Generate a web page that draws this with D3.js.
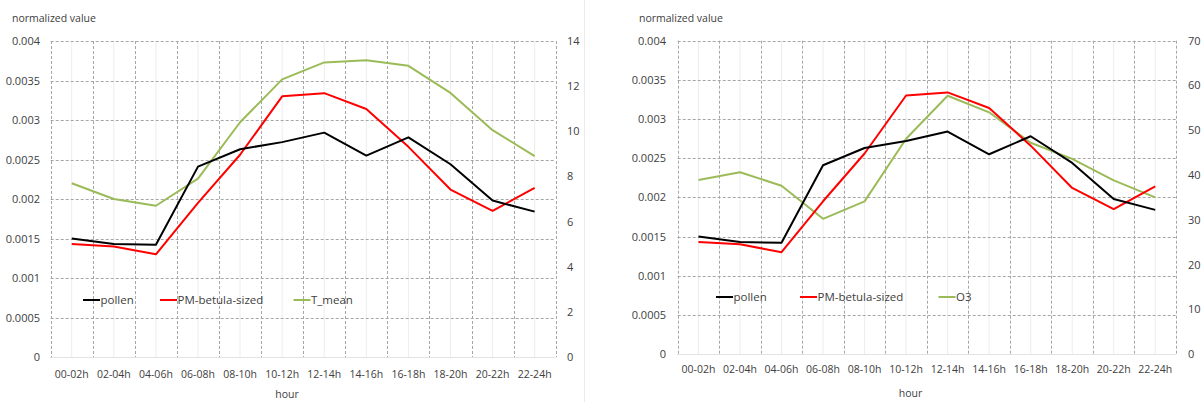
<!DOCTYPE html>
<html>
<head>
<meta charset="utf-8">
<script src="https://cdn.jsdelivr.net/npm/d3@7"></script>
<style>
  html, body { margin: 0; padding: 0; background: #fff; }
  svg { display: block; }
  text { font-family: "Open Sans", "Noto Sans", sans-serif; fill: #404040; }
</style>
</head>
<body>
<svg id="chart" width="1204" height="402"></svg>
<script>
// Two-hour bins of the day
const hours = ["00-02h","02-04h","04-06h","06-08h","08-10h","10-12h","12-14h","14-16h","16-18h","18-20h","20-22h","22-24h"];

// Normalized daily profiles (left axis)
const pollen    = [0.00150, 0.00143, 0.00142, 0.00241, 0.00263, 0.00272, 0.00284, 0.00255, 0.00278, 0.00244, 0.00198, 0.00184];
const pmBetula  = [0.00143, 0.00140, 0.00130, 0.00195, 0.00256, 0.00330, 0.00334, 0.00314, 0.00266, 0.00212, 0.00185, 0.00214];

// Secondary series (right axis)
const tMean = [7.7, 7.0, 6.7, 7.9, 10.4, 12.3, 13.05, 13.15, 12.9, 11.7, 10.05, 8.9];
const o3    = [38.9, 40.6, 37.6, 30.2, 34.1, 48.1, 57.7, 54.0, 47.2, 43.6, 38.8, 35.0];

// Axis ticks
const leftTicks = [0, 0.0005, 0.001, 0.0015, 0.002, 0.0025, 0.003, 0.0035, 0.004];
const tempTicks = [0, 2, 4, 6, 8, 10, 12, 14];
const o3Ticks   = [0, 10, 20, 30, 40, 50, 60, 70];

const seriesNames = { pollen: "pollen", pm: "PM-betula-sized" };
const colors = { pollen: "#000000", pm: "#ff0000", secondary: "#9bbb59" };

const svg = d3.select("#chart");

// thin separator between the two panels
svg.append("line")
  .attr("x1", 584.5).attr("x2", 584.5).attr("y1", 0).attr("y2", 402)
  .attr("stroke", "#ececec").attr("stroke-width", 1);

function drawPanel(cfg) {
  const g = svg.append("g");
  const { x0, x1, y0, y1 } = cfg.plot;

  const x = d3.scaleBand().domain(hours).range([x0, x1]).padding(0);
  const yL = d3.scaleLinear().domain([0, 0.004]).range([y1, y0]);
  const yR = d3.scaleLinear().domain([0, cfg.rightMax]).range([y1, y0]);

  // faint lines through category centres
  g.append("g").selectAll("line").data(hours).join("line")
    .attr("x1", d => x(d) + x.bandwidth() / 2)
    .attr("x2", d => x(d) + x.bandwidth() / 2)
    .attr("y1", y0).attr("y2", y1)
    .attr("stroke", "#ededed").attr("stroke-width", 1);

  // dashed horizontal gridlines
  g.append("g").selectAll("line").data(leftTicks).join("line")
    .attr("x1", x0).attr("x2", x1)
    .attr("y1", d => Math.round(yL(d)) + 0.5).attr("y2", d => Math.round(yL(d)) + 0.5)
    .attr("stroke", "#a6a6a6").attr("stroke-width", 1)
    .attr("stroke-dasharray", "3,2");

  // dashed vertical gridlines on category boundaries
  const bounds = hours.map(d => x(d)).concat([x1]);
  g.append("g").selectAll("line").data(bounds).join("line")
    .attr("x1", d => Math.round(d) + 0.5).attr("x2", d => Math.round(d) + 0.5)
    .attr("y1", y0).attr("y2", y1)
    .attr("stroke", "#a6a6a6").attr("stroke-width", 1)
    .attr("stroke-dasharray", "3,2");

  // horizontal axis line
  g.append("line")
    .attr("x1", x0).attr("x2", x1)
    .attr("y1", Math.round(y1) + 0.5).attr("y2", Math.round(y1) + 0.5)
    .attr("stroke", "#e3e3e3").attr("stroke-width", 1);

  // left axis labels
  const fmt = v => String(+v.toFixed(4));
  const axL = g.append("g")
    .attr("transform", `translate(${cfg.leftLabelX},0)`)
    .call(d3.axisLeft(yL).tickValues(leftTicks).tickFormat(fmt).tickSize(0).tickPadding(0));
  axL.select(".domain").remove();
  axL.selectAll("text").style("font-size", "11px").attr("fill", "#404040")
    .style("font-family", "'Open Sans', sans-serif");

  // right axis labels
  const axR = g.append("g")
    .attr("transform", `translate(${cfg.rightLabelX},0)`)
    .call(d3.axisRight(yR).tickValues(cfg.rightTicks).tickSize(0).tickPadding(0));
  axR.select(".domain").remove();
  axR.selectAll("text").style("font-size", "11px").attr("fill", "#404040")
    .style("font-family", "'Open Sans', sans-serif");

  // category labels
  const axB = g.append("g")
    .attr("transform", `translate(0,${cfg.catLabelY})`)
    .call(d3.axisBottom(x).tickSize(0).tickPadding(0));
  axB.select(".domain").remove();
  axB.selectAll("text").style("font-size", "10.5px").attr("fill", "#404040")
    .style("font-family", "'Open Sans', sans-serif").attr("dy", "0.35em").attr("y", 0);

  // axis titles
  g.append("text").attr("x", cfg.titleX).attr("y", 22)
    .style("font-size", "10.5px").text("normalized value");
  g.append("text").attr("x", cfg.hourX).attr("y", cfg.hourY)
    .attr("text-anchor", "middle").attr("dy", "0.35em")
    .style("font-size", "10.5px").text("hour");

  // series
  const cx = d => x(d) + x.bandwidth() / 2;
  const lineL = d3.line().x((v, i) => cx(hours[i])).y(v => yL(v));
  const lineR = d3.line().x((v, i) => cx(hours[i])).y(v => yR(v));

  g.append("path").datum(cfg.secondary)
    .attr("d", lineR).attr("fill", "none")
    .attr("stroke", colors.secondary).attr("stroke-width", 2).attr("stroke-linejoin", "round");
  g.append("path").datum(pmBetula)
    .attr("d", lineL).attr("fill", "none")
    .attr("stroke", colors.pm).attr("stroke-width", 2).attr("stroke-linejoin", "round");
  g.append("path").datum(pollen)
    .attr("d", lineL).attr("fill", "none")
    .attr("stroke", colors.pollen).attr("stroke-width", 2).attr("stroke-linejoin", "round");

  // legend
  const items = [
    { name: seriesNames.pollen, color: colors.pollen, x: cfg.legendX[0] },
    { name: seriesNames.pm, color: colors.pm, x: cfg.legendX[1] },
    { name: cfg.secondaryName, color: colors.secondary, x: cfg.legendX[2] }
  ];
  const lg = g.append("g").selectAll("g").data(items).join("g")
    .attr("transform", d => `translate(${d.x},${cfg.legendY})`);
  lg.append("line").attr("x1", 0).attr("x2", 17).attr("y1", 0).attr("y2", 0)
    .attr("stroke", d => d.color).attr("stroke-width", 2);
  lg.append("text").attr("x", 17.5).attr("y", 0).attr("dy", "0.35em")
    .style("font-size", "11.5px").text(d => d.name);
}

drawPanel({
  plot: { x0: 50.7, x1: 555.7, y0: 41, y1: 357 },
  rightMax: 14, rightTicks: tempTicks,
  secondary: tMean, secondaryName: "T_mean",
  leftLabelX: 40, rightLabelX: 567,
  catLabelY: 374, titleX: 12, hourX: 287, hourY: 394,
  legendX: [83, 160, 293.5], legendY: 300
});

drawPanel({
  plot: { x0: 677.7, x1: 1176, y0: 40.7, y1: 354 },
  rightMax: 70, rightTicks: o3Ticks,
  secondary: o3, secondaryName: "O3",
  leftLabelX: 666, rightLabelX: 1188,
  catLabelY: 369, titleX: 639, hourX: 910.5, hourY: 393,
  legendX: [716, 800, 938.5], legendY: 297
});
</script>
</body>
</html>
